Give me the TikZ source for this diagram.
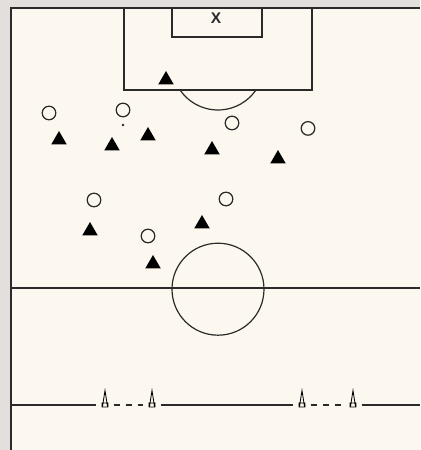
\documentclass[tikz,border=0pt]{standalone}
\usepackage{fontspec}
\setsansfont{Liberation Sans}
\usetikzlibrary{shapes.geometric}
\definecolor{bggray}{HTML}{E2DFDC}
\definecolor{pitch}{HTML}{FCF8EF}
\definecolor{ink}{HTML}{2A2A2A}
\begin{document}
\begin{tikzpicture}[line width=0.85pt,
    attacker/.style={regular polygon,regular polygon sides=3,fill=black,inner sep=0pt,minimum size=0.45cm},
    defender/.style={circle,draw=ink,line width=0.9pt,fill=pitch,inner sep=0pt,minimum size=0.34cm},
    ballmark/.style={circle,fill=ink,inner sep=0pt,minimum size=0.07cm},
    conemark/.style={rectangle,inner sep=0pt,minimum width=0.4cm,minimum height=0.8cm,
      path picture={\draw[line width=0.6pt,shift={(path picture bounding box.center)}]
        (-0.065,-0.05) -- (0,0.36) -- (0.065,-0.05) -- cycle
        (-0.075,-0.05) rectangle (0.075,0.05);}}]
            \useasboundingbox (0,0) rectangle (10.5,11.25);
            \fill[bggray] (0,0) rectangle (10.5,11.25);
            \fill[pitch] (0.275,0) rectangle (10.5,11.05);
            \draw[ink] (0.275,0) -- (0.275,11.05) -- (10.5,11.05);
            \draw[ink] (3.1,11.05) -- (3.1,9.0) -- (7.8,9.0) -- (7.8,11.05);
            \draw[ink] (4.3,11.05) -- (4.3,10.325) -- (6.55,10.325) -- (6.55,11.05);
            \draw[ink] (5.45,9.65) ++(214.5:1.15) arc[start angle=214.5,end angle=325.5,radius=1.15];
            \node[font=\sffamily\bfseries\fontsize{11}{13}\selectfont,text=ink] (goal) at (5.4,10.8) {X};
            \coordinate (hl) at (0.275,4.05);
            \coordinate (hr) at (10.5,4.05);
            \coordinate (mid) at (5.45,4.02);
            \draw[ink] (hl) -- (hr);
            \draw[ink] (mid) circle (1.15);
            \coordinate (bl) at (0.275,1.125);
            \coordinate (br) at (10.5,1.125);
            \node[conemark] (c1) at (2.625,1.125) {};
            \node[conemark] (c2) at (3.8,1.125) {};
            \node[conemark] (c3) at (7.55,1.125) {};
            \node[conemark] (c4) at (8.825,1.125) {};
            \draw[ink] (bl) -- (c1);
            \draw[ink,dash pattern=on 0.17cm off 0.13cm] (c1) -- (c2);
            \draw[ink] (c2) -- (c3);
            \draw[ink,dash pattern=on 0.17cm off 0.13cm] (c3) -- (c4);
            \draw[ink] (c4) -- (br);
            \node[defender] (d1) at (1.225,8.425) {};
            \node[defender] (d2) at (3.075,8.5) {};
            \node[defender] (d3) at (5.8,8.175) {};
            \node[defender] (d4) at (7.7,8.04) {};
            \node[defender] (d5) at (2.35,6.25) {};
            \node[defender] (d6) at (5.65,6.275) {};
            \node[defender] (d7) at (3.7,5.35) {};
            \node[ballmark] (ball) at (3.075,8.125) {};
            \node[attacker] (a1) at (4.15,9.25) {};
            \node[attacker] (a2) at (1.475,7.75) {};
            \node[attacker] (a3) at (2.8,7.6) {};
            \node[attacker] (a4) at (3.7,7.85) {};
            \node[attacker] (a5) at (5.3,7.5) {};
            \node[attacker] (a6) at (6.95,7.275) {};
            \node[attacker] (a7) at (2.25,5.475) {};
            \node[attacker] (a8) at (5.05,5.65) {};
            \node[attacker] (a9) at (3.825,4.65) {};
        \end{tikzpicture}
\end{document}
